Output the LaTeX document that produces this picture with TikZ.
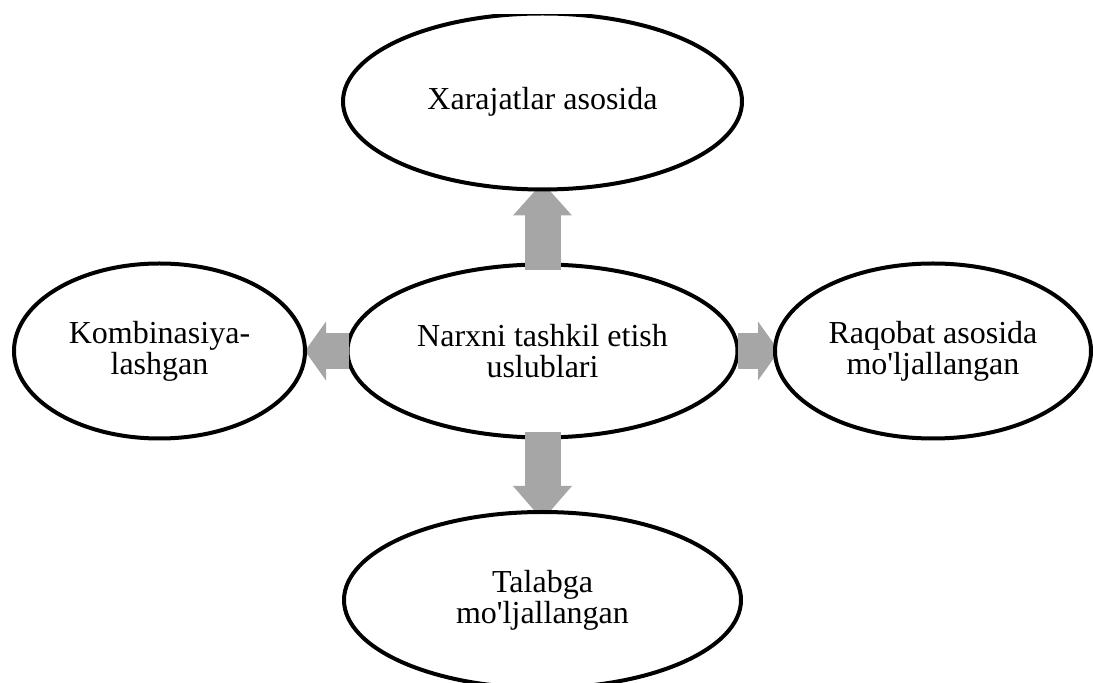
\documentclass[tikz,border=0pt]{standalone}
\usepackage{fontspec}
\setmainfont{Liberation Serif}
\usetikzlibrary{arrows.meta,shapes.geometric}
\definecolor{arrowgray}{RGB}{166,166,166}
\pgfdeclarelayer{bottom}
\pgfdeclarelayer{arrows}
\pgfsetlayers{bottom,arrows,main}
\tikzset{
  oval/.style={ellipse, draw, line width=4pt, fill=white, inner sep=0pt, outer sep=0pt,
    align=center, font=\fontsize{32pt}{31pt}\selectfont},
  blockarrow/.style={draw=arrowgray, line width=36pt, -{Triangle[width=59pt,length=#1,line width=0pt]}}
}
\begin{document}
\begin{tikzpicture}[x=1pt,y=1pt]
  \useasboundingbox (0,0) rectangle (1093,683);
  \clip (0,0) rectangle (1093,668);
  % centre
  \begin{pgfonlayer}{bottom}
    \node[oval, minimum width=390pt, minimum height=173pt] (centre) at (542.5,332) {Narxni tashkil etish\\uslublari};
  \end{pgfonlayer}
  % methods
  \node[oval, minimum width=399pt, minimum height=176pt] (cost) at (542.5,581.5) {Xarajatlar asosida};
  \node[oval, minimum width=291pt, minimum height=175pt] (mixed) at (159.5,332) {Kombinasiya-\\lashgan};
  \node[oval, minimum width=316pt, minimum height=175pt] (rival) at (933,332) {Raqobat asosida\\mo\textquotesingle ljallangan};
  \node[oval, minimum width=397pt, minimum height=176pt] (demand) at (542.5,83) {Talabga\\mo\textquotesingle ljallangan};
  % arrows
  \begin{pgfonlayer}{arrows}
    \draw[blockarrow=33pt, shorten <=-6pt, shorten >=-7pt] (centre.north) -- (cost.south);
    \draw[blockarrow=34pt, shorten <=-5pt, shorten >=-8pt] (centre.south) -- (demand.north);
    \draw[blockarrow=21pt, shorten <=-1pt] (centre.west) -- (mixed.east);
    \draw[blockarrow=21pt, shorten >=-4pt] (centre.east) -- (rival.west);
  \end{pgfonlayer}
\end{tikzpicture}
\end{document}
